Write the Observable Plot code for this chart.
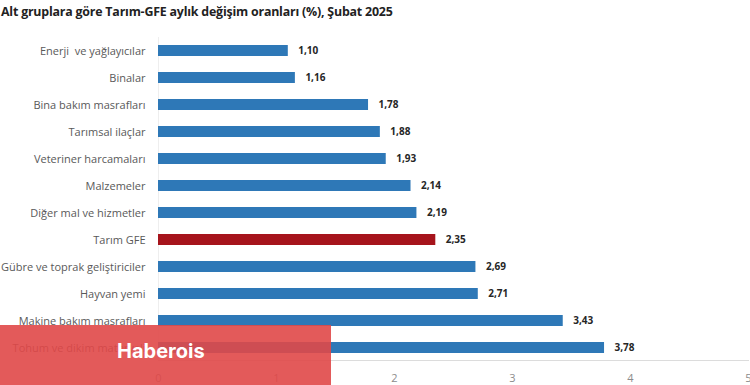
<!DOCTYPE html>
<html>
<head>
<meta charset="utf-8">
<script src="https://cdn.jsdelivr.net/npm/d3@7"></script>
<script src="https://cdn.jsdelivr.net/npm/@observablehq/plot@0.6"></script>
<style>
  html, body { margin: 0; padding: 0; background: #fff; }
  #wrap { position: relative; width: 750px; height: 385px; overflow: hidden; }
  #title { position: absolute; left: 1px; top: 3px; font-family: "Open Sans", sans-serif; font-weight: 700; font-size: 12.4px; color: #222; letter-spacing: -0.2px; white-space: nowrap; }
  #chart { position: absolute; left: 0; top: 24px; }
  #wm { position: absolute; left: 0; top: 325px; width: 331px; height: 60px; background: rgba(224, 72, 72, 0.9); }
  #wm span { position: absolute; left: 117px; top: 14px; font-family: Inter, "Open Sans", sans-serif; font-weight: 700; font-size: 20px; color: #fff; }
</style>
</head>
<body>
<div id="wrap">
  <div id="title">Alt gruplara göre Tarım-GFE aylık değişim oranları (%), Şubat 2025</div>
  <div id="chart"></div>
  <div id="wm"><span>Haberois</span></div>
</div>
<script>
const categories = [
  "Enerji  ve yağlayıcılar",
  "Binalar",
  "Bina bakım masrafları",
  "Tarımsal ilaçlar",
  "Veteriner harcamaları",
  "Malzemeler",
  "Diğer mal ve hizmetler",
  "Tarım GFE",
  "Gübre ve toprak geliştiriciler",
  "Hayvan yemi",
  "Makine bakım masrafları",
  "Tohum ve dikim materyali"
];
const values = [1.10, 1.16, 1.78, 1.88, 1.93, 2.14, 2.19, 2.35, 2.69, 2.71, 3.43, 3.78];
const highlight = "Tarım GFE";
const xTicks = [0, 1, 2, 3, 4, 5];

const data = categories.map((c, i) => ({cat: c, value: values[i], hi: c === highlight}));
const fmt = v => v.toFixed(2).replace(".", ",");

const chart = Plot.plot({
  width: 750,
  height: 361,
  marginTop: 13,
  marginBottom: 25,
  marginLeft: 158,
  marginRight: 2,
  style: {fontFamily: "'Open Sans', sans-serif", fontSize: "10.5px", color: "#595959", background: "transparent", overflow: "visible"},
  x: {domain: [0, 5], label: null},
  y: {domain: categories, paddingInner: 0.6, paddingOuter: 0.28, label: null},
  marks: [
    Plot.ruleX([0], {stroke: "#eeeeee", strokeWidth: 1}),
    Plot.barX(data, {y: "cat", x: "value", fill: d => d.hi ? "#a6141c" : "#2e78b7"}),
    Plot.text(data, {y: "cat", x: "value", text: d => fmt(d.value), dx: 10, textAnchor: "start", fontWeight: "bold", fill: "#262626", fontSize: 10}),
    Plot.axisY({tickSize: 0, tickPadding: 13, fontSize: 11, fill: "#595959"}),
    Plot.axisX({ticks: xTicks, tickFormat: d => String(d), tickSize: 0, tickPadding: 14, fontSize: 11, fill: "#8c8c8c"}),
    Plot.frame({anchor: "bottom", stroke: "#dcdcdc"})
  ]
});
document.getElementById("chart").appendChild(chart);
</script>
</body>
</html>
